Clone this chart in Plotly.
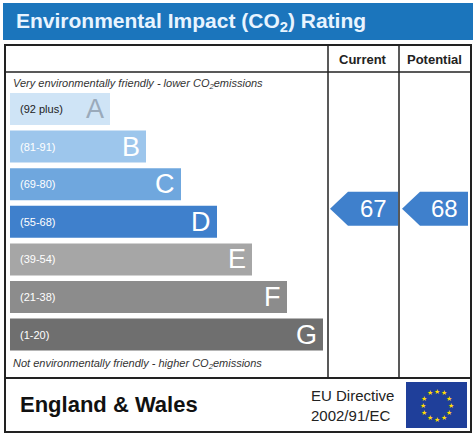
import math
import plotly.graph_objects as go

bands = ["A", "B", "C", "D", "E", "F", "G"]
ranges = ["(92 plus)", "(81-91)", "(69-80)", "(55-68)", "(39-54)", "(21-38)", "(1-20)"]
lows = [92, 81, 69, 55, 39, 21, 1]
colors = ["#cfe4f6", "#9dc6ec", "#6fa7de", "#3f80cc", "#a6a6a6", "#8c8c8c", "#6f6f6f"]
lengths = [100, 136, 171, 207, 242, 277, 313]
current = 67
potential = 68

W, H = 476, 437
top, pitch, bh = 109, 37.6, 32
centers = [top + i * pitch for i in range(len(bands))]


def band_of(v):
    for i, lo in enumerate(lows):
        if v >= lo:
            return i
    return len(lows) - 1


fig = go.Figure()
fig.add_trace(go.Bar(orientation="h", y=centers, x=lengths, base=10, width=bh,
                     marker=dict(color=colors, line=dict(width=0)), hoverinfo="skip"))

shapes = [
    dict(type="rect", x0=3, x1=473, y0=3, y1=40, fillcolor="#1b75bc", line=dict(width=0)),
    dict(type="rect", x0=5, x1=471, y0=45, y1=432, line=dict(color="#222", width=2)),
    dict(type="line", x0=5, x1=471, y0=72, y1=72, line=dict(color="#222", width=1.5)),
    dict(type="line", x0=5, x1=471, y0=378, y1=378, line=dict(color="#222", width=2)),
    dict(type="line", x0=328, x1=328, y0=45, y1=378, line=dict(color="#222", width=1.5)),
    dict(type="line", x0=399, x1=399, y0=45, y1=378, line=dict(color="#222", width=1.5)),
    dict(type="rect", x0=406, x1=467, y0=382, y1=428, fillcolor="#1f3f9a", line=dict(width=0)),
]
ann = [
    dict(x=14, y=22, text="<b>Environmental Impact (CO<sub>2</sub>) Rating</b>", xanchor="left",
         font=dict(size=21, color="#e8f4ff")),
    dict(x=363, y=59, text="<b>Current</b>", font=dict(size=13, color="#222")),
    dict(x=434, y=59, text="<b>Potential</b>", font=dict(size=13, color="#222")),
    dict(x=11, y=84, text="<i>Very environmentally friendly - lower CO<sub>2</sub>emissions</i>",
         xanchor="left", font=dict(size=11, color="#333")),
    dict(x=11, y=364, text="<i>Not environmentally friendly - higher CO<sub>2</sub>emissions</i>",
         xanchor="left", font=dict(size=11, color="#333")),
    dict(x=18, y=404, text="<b>England &amp; Wales</b>", xanchor="left", font=dict(size=22, color="#111")),
    dict(x=396, y=405, text="EU Directive<br>2002/91/EC", xanchor="right", align="left",
         font=dict(size=15, color="#222")),
]
for i, b in enumerate(bands):
    c = centers[i]
    ann.append(dict(x=18, y=c, text=ranges[i], xanchor="left",
                    font=dict(size=11, color="#222" if i == 0 else "white")))
    ann.append(dict(x=10 + lengths[i] - 4, y=c, text=b, xanchor="right",
                    font=dict(size=27, color="#9aaabb" if i == 0 else "white")))

for v, x0, x1 in [(current, 330, 398), (potential, 402, 468)]:
    c = centers[band_of(v)] - 13
    h = 17
    path = f"M {x0},{c} L {x0+18},{c-h} L {x1},{c-h} L {x1},{c+h} L {x0+18},{c+h} Z"
    shapes.append(dict(type="path", path=path, fillcolor="#3f80cc", line=dict(width=0)))
    ann.append(dict(x=(x0 + 18 + x1) / 2, y=c, text=str(v), font=dict(size=24, color="white")))

# EU stars
for k in range(12):
    a = 2 * math.pi * k / 12
    ann.append(dict(x=436.5 + 14 * math.cos(a), y=405 + 14 * math.sin(a), text="★",
                    font=dict(size=7, color="#ffdd00")))

fig.update_layout(
    width=W, height=H, margin=dict(l=0, r=0, t=0, b=0),
    paper_bgcolor="white", plot_bgcolor="white", showlegend=False,
    xaxis=dict(range=[0, W], visible=False, fixedrange=True),
    yaxis=dict(range=[H, 0], visible=False, fixedrange=True),
    shapes=shapes, annotations=[dict(a, showarrow=False) for a in ann],
    font=dict(family="Liberation Sans"),
)
fig.write_html("out.html", config={"displayModeBar": False},
               post_script="document.body.style.margin='0';")
